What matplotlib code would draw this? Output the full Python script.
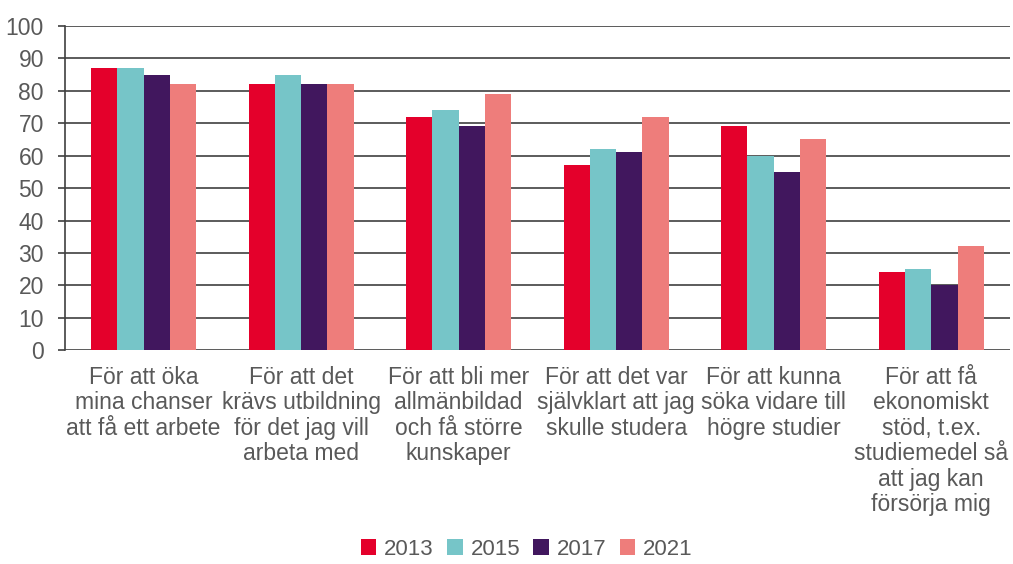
import matplotlib.pyplot as plt
import numpy as np

plt.rcParams['font.family'] = ['Liberation Sans', 'DejaVu Sans']

# data
kategorier = ["För att öka\nmina chanser\natt få ett arbete",
              "För att det\nkrävs utbildning\nför det jag vill\narbeta med",
              "För att bli mer\nallmänbildad\noch få större\nkunskaper",
              "För att det var\nsjälvklart att jag\nskulle studera",
              "För att kunna\nsöka vidare till\nhögre studier",
              "För att få\nekonomiskt\nstöd, t.ex.\nstudiemedel så\natt jag kan\nförsörja mig"]
ar = ["2013", "2015", "2017", "2021"]
v2013 = [87, 82, 72, 57, 69, 24]
v2015 = [87, 85, 74, 62, 60, 25]
v2017 = [85, 82, 69, 61, 55, 20]
v2021 = [82, 82, 79, 72, 65, 32]
serier = [v2013, v2015, v2017, v2021]
farger = ["#E4002B", "#76C5C8", "#41175E", "#EE7D7B"]

textfarg = "#595959"

fig = plt.figure(figsize=(10.13, 5.64), dpi=100)
ax = fig.add_axes([0.064, 0.379, 0.933, 0.575])

x = np.arange(len(kategorier))
b = 0.167
for i, (vals, f) in enumerate(zip(serier, farger)):
    ax.bar(x + (i - 1.5) * b, vals, width=b, color=f, label=ar[i], zorder=3)

ax.set_ylim(0, 100)
ax.set_xlim(-0.5, len(kategorier) - 0.5)
ax.set_yticks(range(0, 101, 10))
ax.yaxis.grid(True, color="#404040", linewidth=1.2, zorder=0)
ax.set_axisbelow(True)
ax.tick_params(axis="y", colors="#404040", labelcolor=textfarg, labelsize=16.5,
               length=5, width=1.2, direction="out", pad=10)
ax.set_xticks(x)
ax.set_xticklabels(kategorier, fontsize=16.5, color=textfarg, linespacing=1.14)
ax.tick_params(axis="x", length=0, pad=11)
for s in ["top", "right", "bottom"]:
    ax.spines[s].set_visible(False)
ax.spines["left"].set_color("#404040")
ax.spines["left"].set_linewidth(1.2)

leg = fig.legend(loc="lower center", bbox_to_anchor=(0.52, -0.028), ncol=4, frameon=False,
                 fontsize=16, handlelength=0.7, handleheight=0.7, handletextpad=0.35,
                 columnspacing=0.6)
for t in leg.get_texts():
    t.set_color(textfarg)

fig.savefig("out.png", dpi=100)
